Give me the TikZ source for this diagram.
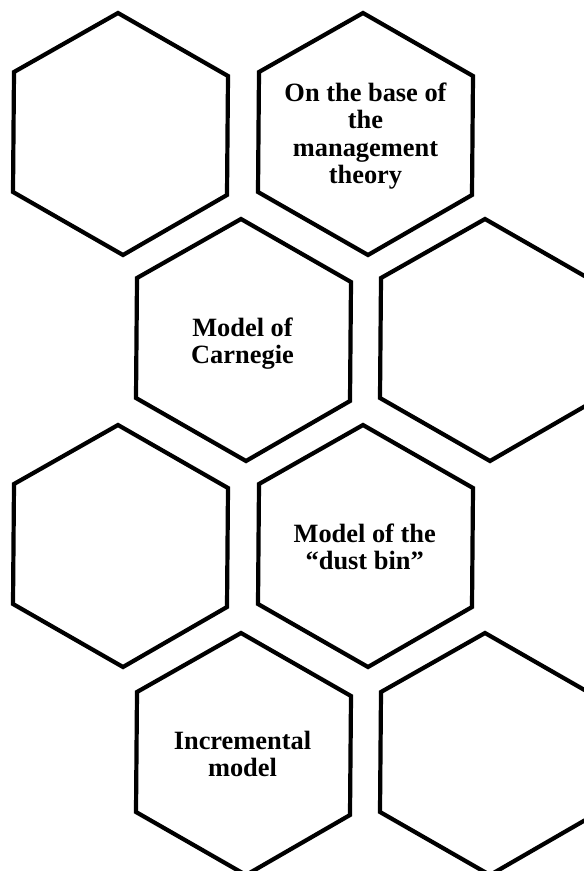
\documentclass[tikz,border=0pt]{standalone}
\usepackage{fontspec}
\setmainfont{Liberation Serif}
\tikzset{
  hexline/.style={draw=black, line width=4.2pt, line join=miter, fill=none},
  hexlabel/.style={anchor=base, inner sep=0pt, font=\fontsize{26.4}{27.5}\selectfont\bfseries}
}
\newcommand{\hexagonat}[2]{%
  \draw[hexline, shift={(#1,#2)}] (0,0) -- (-104,59) -- (-105,179) -- (5,242) -- (109,182) -- (110,63) -- cycle;%
}
\newcommand{\hexlines}[1]{\begin{tabular}[t]{@{}c@{}}#1\end{tabular}}
\begin{document}
\begin{tikzpicture}[x=1pt,y=-1pt]
\useasboundingbox (0,0) rectangle (584,871);
\clip (0,0) rectangle (584,871);
% row 1
\hexagonat{118}{13}
\hexagonat{363}{13}
% row 2
\hexagonat{241}{219}
\hexagonat{485}{219}
% row 3
\hexagonat{118}{425}
\hexagonat{363}{425}
% row 4
\hexagonat{241}{633}
\hexagonat{485}{633}
% labels
\node[hexlabel] (base) at (365.5,101) {\hexlines{On the base of\\the\\management\\theory}};
\node[hexlabel] (carnegie) at (242.5,336) {\hexlines{Model of\\Carnegie}};
\node[hexlabel] (dustbin) at (364.7,542) {\hexlines{Model of the\\“dust bin”}};
\node[hexlabel] (incremental) at (242.5,749) {\hexlines{Incremental\\model}};
\end{tikzpicture}
\end{document}
